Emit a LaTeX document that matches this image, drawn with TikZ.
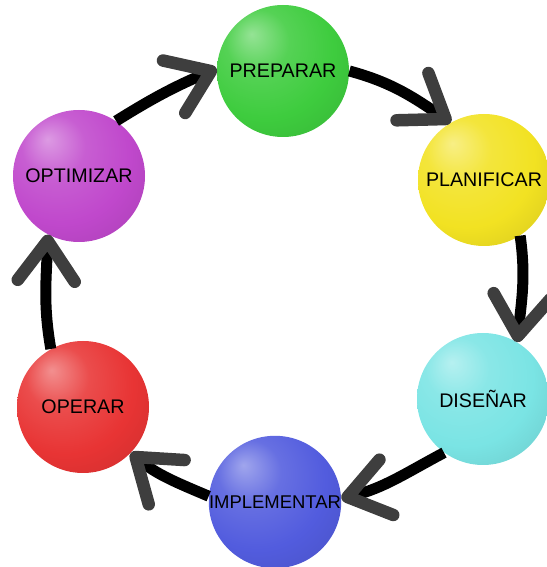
\documentclass[tikz,border=0pt]{standalone}
\usepackage{fontspec}
\setmainfont{Liberation Sans}
\usetikzlibrary{arrows.meta}

\definecolor{prepgreen}{RGB}{62,204,62}
\definecolor{planyellow}{RGB}{242,226,34}
\definecolor{discyan}{RGB}{122,228,228}
\definecolor{implblue}{RGB}{82,92,222}
\definecolor{operred}{RGB}{232,52,52}
\definecolor{optpurple}{RGB}{192,72,204}
\definecolor{tipgray}{RGB}{62,62,62}

% softer sphere than the built-in ball shading
\makeatletter
\pgfdeclareradialshading[tikz@ball]{sphere}{\pgfqpoint{-12bp}{14bp}}{%
  color(0bp)=(tikz@ball!55!white);
  color(12bp)=(tikz@ball!88!white);
  color(26bp)=(tikz@ball);
  color(42bp)=(tikz@ball!88!black);
  color(62bp)=(tikz@ball!70!black)}
\makeatother

\tikzset{
  phase/.style={circle, minimum size=2.64cm, inner sep=0pt,
    ball color=#1, shading=sphere,
    font=\fontsize{11.2}{13}\selectfont},
  cyclearrow/.style={line width=0.22cm, black,
    -{Straight Barb[length=0.8cm, width=1.14cm, line width=0.25cm, round, color=tipgray]}}
}

\begin{document}
\begin{tikzpicture}

\useasboundingbox (0,0) rectangle (10.94,11.34);

% Phases
\node [phase=prepgreen] (prep) at (5.66,9.92) {PREPARAR};
\node [phase=planyellow] (plan) at (9.68,7.74) {PLANIFICAR};
\node [phase=discyan] (dis) at (9.66,3.36) {DISEÑAR};
\node [phase=implblue, font=\fontsize{10.5}{12}\selectfont] (impl) at (5.50,1.30) {IMPLEMENTAR};
\node [phase=operred] (oper) at (1.66,3.20) {OPERAR};
\node [phase=optpurple] (opt) at (1.58,7.82) {OPTIMIZAR};

% Cycle
\draw [cyclearrow] (prep.0) to[out=-15, in=146] (plan.120);
\draw [cyclearrow] (plan.-57) to[out=-82, in=84] (dis.59);
\draw [cyclearrow] (dis.-126) to[out=208, in=14] (impl.3);
\draw [cyclearrow] (impl.175) to[out=157, in=-39] (oper.-44);
\draw [cyclearrow] (oper.119) to[out=100, in=-92] (opt.-118);
\draw [cyclearrow] (opt.56) to[out=32, in=203] (prep.178);

\end{tikzpicture}
\end{document}
